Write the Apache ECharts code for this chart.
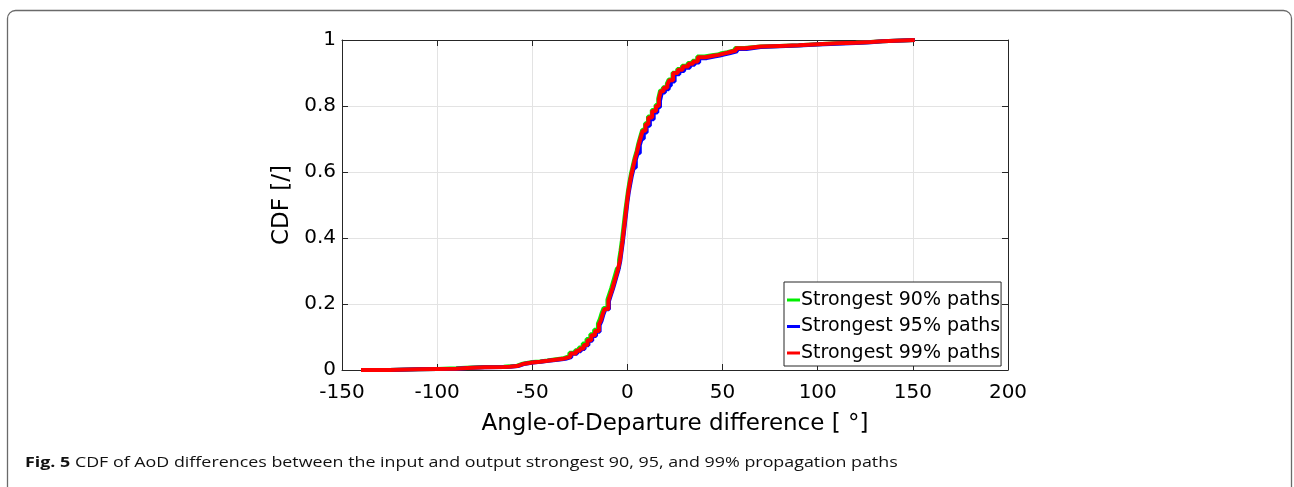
<!DOCTYPE html>
<html>
<head>
<meta charset="utf-8">
<script src="https://cdn.jsdelivr.net/npm/echarts@6/dist/echarts.min.js"></script>
<style>
html,body{margin:0;padding:0;background:#fff;}
#chart{width:1294px;height:487px;}
</style>
</head>
<body>
<div id="chart"></div>
<script>
// ---- data ----
var xTicks = [-150, -100, -50, 0, 50, 100, 150, 200];
var yTicks = [0, 0.2, 0.4, 0.6, 0.8, 1];
var seriesNames = ['Strongest 90% paths', 'Strongest 95% paths', 'Strongest 99% paths'];
var seriesColors = ['#00ee00', '#0000ff', '#ff0000'];

var cdf90 = [[-140,0],[-125,0.002],[-110,0.003],[-100,0.005],[-90,0.007],[-85,0.009],[-75,0.010],[-65,0.011],[-62,0.013],[-58,0.019],[-55,0.024],[-50,0.026],[-46,0.029],[-42,0.033],[-37.5,0.036],[-33.5,0.042],[-30.5,0.052],[-27.5,0.060],[-25.5,0.068],[-23.5,0.080],[-21.5,0.094],[-19.5,0.108],[-17.5,0.122],[-15.5,0.141],[-14.5,0.154],[-13.5,0.173],[-12.5,0.188],[-10.5,0.213],[-9.5,0.231],[-8.5,0.248],[-7.5,0.268],[-6.5,0.288],[-5.5,0.308],[-4.4,0.333],[-3.6,0.363],[-2.9,0.393],[-2.3,0.423],[-1.7,0.453],[-1.1,0.483],[-0.4,0.513],[0.3,0.543],[1,0.568],[1.8,0.593],[2.8,0.618],[3.8,0.643],[4.8,0.663],[5.8,0.688],[6.8,0.708],[7.8,0.728],[9.3,0.748],[10.8,0.768],[12.8,0.788],[14.8,0.803],[16.2,0.823],[17.2,0.847],[18.7,0.857],[20.7,0.867],[21.7,0.88],[23.7,0.901],[26.2,0.912],[28.7,0.922],[31.7,0.93],[34.2,0.937],[36.7,0.95],[40.5,0.954],[44.5,0.956],[47.5,0.96],[49.5,0.963],[52.5,0.969],[56.5,0.976],[61.5,0.98],[70,0.982],[80,0.984],[90,0.987],[100,0.99],[110,0.992],[120,0.994],[128,0.996],[134,1.0],[151,1.0]];

var cdf95 = [[-140,0],[-125,0.002],[-110,0.003],[-100,0.004],[-90,0.006],[-84,0.008],[-75,0.009],[-65,0.010],[-61.5,0.012],[-57.5,0.018],[-54.5,0.023],[-49.5,0.025],[-45.5,0.028],[-41.5,0.031],[-36.5,0.034],[-32.5,0.039],[-29.5,0.049],[-26.5,0.057],[-24.5,0.064],[-22.5,0.075],[-20.5,0.089],[-18.5,0.103],[-16.5,0.116],[-14.6,0.136],[-13.6,0.149],[-12.6,0.169],[-11.6,0.184],[-9.7,0.209],[-8.7,0.227],[-7.7,0.244],[-6.7,0.264],[-5.7,0.284],[-4.7,0.304],[-3.8,0.329],[-3.1,0.359],[-2.4,0.389],[-1.8,0.419],[-1.2,0.449],[-0.6,0.479],[0,0.509],[0.7,0.538],[1.5,0.563],[2.3,0.588],[3.3,0.613],[4.4,0.637],[5.4,0.657],[6.5,0.681],[7.5,0.701],[8.6,0.72],[10.1,0.74],[11.8,0.76],[13.8,0.78],[15.7,0.796],[17.1,0.816],[18.1,0.841],[19.7,0.851],[21.7,0.861],[22.8,0.874],[24.8,0.896],[27.3,0.906],[29.8,0.916],[32.8,0.925],[35.3,0.932],[37.7,0.945],[41.6,0.95],[45.6,0.953],[48.6,0.956],[50.6,0.96],[53.6,0.966],[57.6,0.973],[62.6,0.979],[70,0.981],[80,0.983],[90,0.986],[100,0.989],[110,0.991],[120,0.993],[128,0.996],[134,1.0],[151,1.0]];

var cdf99 = [[-140,0],[-125,0.002],[-110,0.003],[-100,0.004],[-90,0.006],[-84,0.008],[-75,0.009],[-65,0.010],[-62,0.012],[-58,0.018],[-55,0.023],[-50,0.025],[-46,0.028],[-42,0.032],[-37,0.035],[-33,0.040],[-30,0.050],[-27,0.058],[-25,0.065],[-23,0.076],[-21,0.090],[-19,0.105],[-17,0.118],[-15,0.138],[-14,0.150],[-13,0.170],[-12,0.185],[-10,0.210],[-9,0.228],[-8,0.245],[-7,0.265],[-6,0.285],[-5,0.305],[-4,0.330],[-3.3,0.360],[-2.6,0.390],[-2,0.420],[-1.4,0.450],[-0.8,0.480],[-0.2,0.510],[0.5,0.540],[1.2,0.565],[2,0.590],[3,0.615],[4,0.640],[5,0.660],[6,0.685],[7,0.705],[8,0.725],[9.5,0.745],[11,0.765],[13,0.785],[15,0.800],[16.5,0.820],[17.5,0.845],[19,0.855],[21,0.865],[22,0.878],[24,0.900],[26.5,0.910],[29,0.920],[32,0.928],[34.5,0.935],[37,0.948],[41,0.952],[45,0.955],[48,0.958],[50,0.962],[53,0.968],[57,0.975],[62,0.980],[70,0.982],[80,0.984],[90,0.987],[100,0.990],[110,0.992],[120,0.994],[128,0.996],[134,1.0],[151,1.0]];

var captionBold = 'Fig. 5';
var captionText = 'CDF of AoD differences between the input and output strongest 90, 95, and 99% propagation paths';
var xTitle = 'Angle-of-Departure difference [ \u00b0]';
var yTitle = 'CDF [/]';

// ---- chart ----
var chart = echarts.init(document.getElementById('chart'), null, {renderer: 'canvas'});
var axisColor = '#262626';
var font = '"DejaVu Sans", sans-serif';
var capFont = '"Open Sans", "Noto Sans", sans-serif';
var allData = [cdf90, cdf95, cdf99];

function mkSeries(i) {
  return {
    name: seriesNames[i],
    type: 'line',
    data: allData[i],
    step: 'end',
    showSymbol: false,
    symbol: 'none',
    lineStyle: {color: seriesColors[i], width: 4},
    itemStyle: {color: seriesColors[i]},
    z: 3 + i,
    animation: false
  };
}

var option = {
  animation: false,
  backgroundColor: '#ffffff',
  grid: {left: 342, right: 286, top: 40, bottom: 117, containLabel: false},
  legend: {
    orient: 'vertical',
    left: 784, top: 282,
    data: seriesNames.map(function (n, i) { return {name: n, icon: 'rect', itemStyle: {color: seriesColors[i]}}; }),
    itemWidth: 13, itemHeight: 3, itemGap: 6.5,
    padding: [8, 1, 3, 3],
    backgroundColor: '#ffffff',
    borderColor: axisColor, borderWidth: 1,
    textStyle: {fontFamily: font, fontSize: 19, color: '#000', lineHeight: 20, padding: [0, 0, 0, -4]},
    selectedMode: false
  },
  xAxis: [{
    type: 'value', min: -150, max: 200, interval: 50,
    name: xTitle, nameLocation: 'middle', nameGap: 43,
    nameTextStyle: {fontFamily: font, fontSize: 23, color: '#000'},
    axisLine: {show: true, onZero: false, lineStyle: {color: axisColor, width: 1}},
    axisTick: {show: true, inside: true, length: 6, lineStyle: {color: axisColor}},
    axisLabel: {fontFamily: font, fontSize: 20, color: '#000', margin: 13,
      formatter: function (v) { return xTicks.indexOf(v) >= 0 ? String(v) : ''; }},
    splitLine: {show: true, lineStyle: {color: '#e3e3e3', width: 1}}
  }, {
    type: 'value', position: 'top', min: -150, max: 200, interval: 50,
    axisLine: {show: true, onZero: false, lineStyle: {color: axisColor, width: 1}},
    axisTick: {show: true, inside: true, length: 6, lineStyle: {color: axisColor}},
    axisLabel: {show: false}, splitLine: {show: false}
  }],
  yAxis: [{
    type: 'value', min: 0, max: 1, interval: 0.2,
    name: yTitle, nameLocation: 'middle', nameGap: 47,
    nameTextStyle: {fontFamily: font, fontSize: 23, color: '#000'},
    axisLine: {show: true, onZero: false, lineStyle: {color: axisColor, width: 1}},
    axisTick: {show: true, inside: true, length: 6, lineStyle: {color: axisColor}},
    axisLabel: {fontFamily: font, fontSize: 20, color: '#000', margin: 6,
      formatter: function (v) { var t = yTicks.filter(function (k) { return Math.abs(k - v) < 1e-9; }); return t.length ? String(t[0]) : ''; }},
    splitLine: {show: true, lineStyle: {color: '#e3e3e3', width: 1}}
  }, {
    type: 'value', position: 'right', min: 0, max: 1, interval: 0.2,
    axisLine: {show: true, onZero: false, lineStyle: {color: axisColor, width: 1}},
    axisTick: {show: true, inside: true, length: 6, lineStyle: {color: axisColor}},
    axisLabel: {show: false}, splitLine: {show: false}
  }],
  series: [mkSeries(0), mkSeries(1), mkSeries(2)],
  graphic: [
    {
      type: 'rect', silent: true, z: -10,
      shape: {x: 7.5, y: 10.5, width: 1284, height: 520, r: 8},
      style: {fill: 'none', stroke: '#6a6a6a', lineWidth: 1.3}
    },
    {
      type: 'text', x: 25, y: 455, scaleX: 1.19, silent: true,
      style: {
        text: '{b|' + captionBold + '} ' + captionText,
        rich: {b: {fontWeight: 'bold', fontFamily: capFont, fontSize: 15, fill: '#111'}},
        fontFamily: capFont, fontSize: 15, fill: '#111'
      }
    }
  ]
};
chart.setOption(option);
</script>
</body>
</html>
